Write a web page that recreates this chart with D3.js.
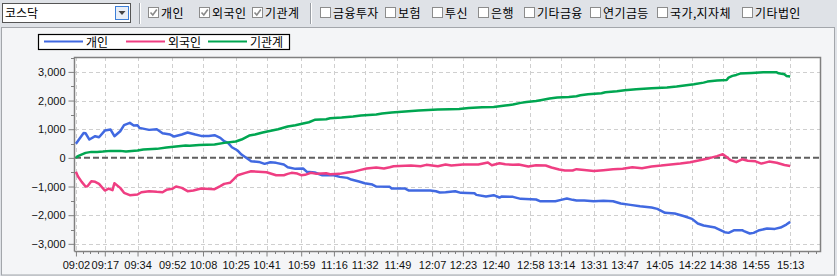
<!DOCTYPE html>
<html>
<head>
<meta charset="utf-8">
<title>코스닥 투자자별 매매동향</title>
<script src="https://cdn.jsdelivr.net/npm/d3@7"></script>
<style>
  body { margin: 0; background: #dfe2e7; }
  svg { display: block; }
</style>
</head>
<body>
<script>

// series names and colours
var seriesNames = ["개인", "외국인", "기관계"];
var seriesColors = ["#4169e1", "#ef3e82", "#00a651"];

// header check boxes
var checkLabels = ["개인", "외국인", "기관계", "금융투자", "보험", "투신", "은행", "기타금융", "연기금등", "국가,지자체", "기타법인"];
var checkOn = [true, true, true, false, false, false, false, false, false, false, false];
var checkX = [148, 199, 252, 320, 385, 432, 478, 524, 590, 657, 742];

// axis ticks
var xTickLabels = ["09:02", "09:17", "09:34", "09:52", "10:08", "10:25", "10:41", "10:59", "11:16", "11:32", "11:49", "12:07",
  "12:23", "12:40", "12:58", "13:14", "13:31", "13:47", "14:05", "14:22", "14:38", "14:55", "15:13"];
var yTicks = [3000, 2000, 1000, 0, -1000, -2000, -3000];

// 개인
var indivTimes = ["09:02","09:06","09:07","09:09","09:12","09:14","09:17","09:20","09:22","09:25","09:27","09:30","09:32","09:34","09:35","09:40","09:44","09:47","09:51","09:53","09:57","10:00","10:04","10:07","10:11","10:14","10:17","10:19","10:21","10:23","10:26","10:28","10:31","10:33","10:37","10:40","10:43","10:46","10:50","10:52","10:56","11:00","11:02","11:06","11:10","11:16","11:19","11:23","11:25","11:29","11:32","11:36","11:38","11:45","11:46","11:53","11:55","12:06","12:09","12:11","12:14","12:19","12:22","12:29","12:30","12:35","12:39","12:42","12:43","12:49","12:51","12:53","13:01","13:03","13:11","13:14","13:17","13:20","13:22","13:26","13:31","13:36","13:41","13:45","13:50","13:55","14:01","14:04","14:08","14:13","14:18","14:22","14:25","14:28","14:34","14:39","14:41","14:44","14:48","14:49","14:52","14:54","14:57","15:01","15:05","15:08","15:11","15:13"];
var indivValues = [490,870,860,640,756,721,953,988,756,930,1140,1221,1128,1140,1047,977,1000,860,814,744,814,884,814,767,767,791,698,581,523,372,256,116,-23,-116,-140,-209,-151,-174,-233,-326,-384,-372,-488,-512,-605,-605,-663,-698,-756,-826,-884,-930,-1000,-1012,-1070,-1070,-1140,-1140,-1163,-1209,-1198,-1163,-1221,-1233,-1291,-1349,-1302,-1384,-1349,-1360,-1395,-1430,-1453,-1512,-1512,-1465,-1419,-1465,-1489,-1489,-1512,-1500,-1512,-1593,-1640,-1687,-1733,-1780,-1919,-1943,-2036,-2129,-2292,-2362,-2431,-2594,-2617,-2524,-2524,-2559,-2640,-2617,-2524,-2466,-2478,-2431,-2327,-2234];

// 외국인
var foreignTimes = ["09:02","09:03","09:05","09:07","09:08","09:10","09:12","09:14","09:17","09:19","09:21","09:22","09:25","09:27","09:30","09:34","09:36","09:40","09:44","09:47","09:49","09:52","09:54","09:57","10:00","10:03","10:07","10:14","10:17","10:19","10:22","10:24","10:26","10:30","10:33","10:41","10:46","10:50","10:52","10:54","10:57","10:59","11:01","11:04","11:07","11:12","11:14","11:19","11:23","11:26","11:30","11:33","11:38","11:42","11:45","11:47","11:56","12:01","12:04","12:10","12:14","12:17","12:23","12:31","12:36","12:38","12:42","12:45","12:49","12:52","12:57","13:01","13:06","13:09","13:13","13:16","13:20","13:22","13:26","13:31","13:36","13:41","13:46","13:51","13:56","14:01","14:06","14:11","14:16","14:21","14:26","14:31","14:35","14:38","14:40","14:42","14:45","14:48","14:51","14:55","14:58","15:02","15:06","15:10","15:13"];
var foreignValues = [-488,-640,-837,-1000,-988,-814,-837,-907,-1140,-1070,-1128,-884,-1047,-1221,-1302,-1279,-1198,-1163,-1186,-1198,-1116,-1081,-1000,-1047,-1163,-1140,-1070,-1093,-988,-907,-872,-744,-605,-523,-465,-500,-605,-605,-558,-523,-547,-605,-593,-523,-558,-535,-570,-558,-512,-488,-419,-372,-337,-372,-326,-291,-267,-291,-244,-291,-233,-267,-233,-233,-163,-256,-186,-221,-244,-233,-302,-256,-267,-337,-407,-442,-442,-395,-420,-460,-430,-400,-380,-330,-360,-300,-270,-230,-200,-150,-80,-10,60,130,30,-80,-150,-50,-100,-120,-200,-130,-170,-250,-280];

// 기관계
var instTimes = ["09:02","09:03","09:07","09:10","09:13","09:16","09:20","09:25","09:28","09:34","09:37","09:44","09:49","09:54","09:59","10:01","10:06","10:14","10:19","10:25","10:28","10:32","10:35","10:39","10:42","10:47","10:52","10:56","11:00","11:03","11:06","11:12","11:14","11:20","11:26","11:30","11:38","11:41","11:46","11:53","12:00","12:10","12:16","12:21","12:26","12:33","12:39","12:45","12:49","12:53","12:56","13:01","13:04","13:08","13:12","13:18","13:22","13:24","13:28","13:35","13:37","13:43","13:47","13:53","14:01","14:09","14:14","14:18","14:23","14:28","14:30","14:35","14:40","14:41","14:43","14:45","14:47","14:53","14:59","15:06","15:07","15:10","15:11","15:13"];
var instValues = [0,58,174,209,209,221,244,244,221,256,290,314,360,395,430,419,453,465,523,570,640,779,814,884,930,1000,1093,1140,1198,1244,1326,1349,1384,1407,1442,1477,1512,1547,1581,1616,1651,1686,1698,1709,1744,1767,1779,1826,1860,1919,1953,1988,2023,2070,2105,2128,2151,2185,2220,2255,2290,2325,2360,2394,2429,2452,2487,2522,2568,2626,2661,2696,2720,2801,2860,2894,2940,2963,2987,2987,2952,2917,2860,2836];


var W = 837, H = 276;
var plot = {left: 75, right: 820, top: 57, bottom: 251};
var parseTime = d3.timeParse("%H:%M");
var fontLatin = "'Liberation Sans', Arial, sans-serif";
var fontKr = "'Noto Sans CJK KR', sans-serif";

var svg = d3.select("body").append("svg")
    .attr("width", W)
    .attr("height", H);

// header bar
svg.append("rect").attr("x", 0).attr("y", 0).attr("width", W).attr("height", 27).attr("fill", "#dfe2e7");

// combo box
svg.append("rect").attr("x", 2.5).attr("y", 3.5).attr("width", 128).attr("height", 19)
    .attr("fill", "#fff").attr("stroke", "#555");
svg.append("text").text("코스닥").attr("x", 5).attr("y", 18)
    .attr("font-family", fontKr).attr("font-size", "12px").attr("fill", "#000");
svg.append("rect").attr("x", 115.5).attr("y", 6.5).attr("width", 13).attr("height", 13)
    .attr("fill", "#e8eef7").attr("stroke", "#3c7fd8");
svg.append("path").attr("d", "M118.5,11 L125.5,11 L122,15 Z").attr("fill", "#444");

// separators
[139, 310].forEach(function(x){
    svg.append("line").attr("x1", x + 0.5).attr("x2", x + 0.5).attr("y1", 3).attr("y2", 24).attr("stroke", "#9a9ea4");
    svg.append("line").attr("x1", x + 1.5).attr("x2", x + 1.5).attr("y1", 3).attr("y2", 24).attr("stroke", "#ffffff");
});

// check boxes
checkLabels.forEach(function(label, i){
    var g = svg.append("g").attr("transform", "translate(" + checkX[i] + ",0)");
    g.append("rect").attr("x", 0.5).attr("y", 7.5).attr("width", 10).attr("height", 10)
        .attr("fill", "#fff").attr("stroke", "#8c8c8c");
    if (checkOn[i]) {
        g.append("path").attr("d", "M2.5,12.5 L4.8,15 L8.8,9.5")
            .attr("fill", "none").attr("stroke", "#8a8a8a").attr("stroke-width", 1.6);
    }
    g.append("text").text(label).attr("x", 13).attr("y", 17.5)
        .attr("font-family", fontKr).attr("font-size", "12px").attr("letter-spacing", "0.4px").attr("fill", "#000");
});

// chart panel
svg.append("rect").attr("x", 1.5).attr("y", 27.5).attr("width", 833).attr("height", 247.5)
    .attr("fill", "#f4f5f7").attr("stroke", "#a3a6ab");
svg.append("rect").attr("x", plot.left).attr("y", plot.top)
    .attr("width", plot.right - plot.left).attr("height", plot.bottom - plot.top)
    .attr("fill", "#fff");

// scales
var xscale = d3.scaleTime()
    .domain([parseTime("09:01"), parseTime("15:29")])
    .range([plot.left - 1, plot.right + 1]);
var yscale = d3.scaleLinear()
    .domain([-3250, 3520])
    .range([plot.bottom, plot.top]);

var xTicks = xTickLabels.map(parseTime);

// grid
svg.append("g").selectAll("line")
    .data(yTicks.filter(function(d){ return d !== 0; })).enter().append("line")
    .attr("x1", plot.left).attr("x2", plot.right)
    .attr("y1", function(d){ return Math.round(yscale(d)) + 0.5; })
    .attr("y2", function(d){ return Math.round(yscale(d)) + 0.5; })
    .attr("stroke", "#cfcfcf").attr("stroke-dasharray", "4,3");
svg.append("g").selectAll("line")
    .data(xTicks).enter().append("line")
    .attr("x1", function(d){ return Math.round(xscale(d)) + 0.5; })
    .attr("x2", function(d){ return Math.round(xscale(d)) + 0.5; })
    .attr("y1", plot.top).attr("y2", plot.bottom)
    .attr("stroke", "#cfcfcf").attr("stroke-dasharray", "4,3");

// zero line
svg.append("line")
    .attr("x1", plot.left).attr("x2", plot.right)
    .attr("y1", yscale(0)).attr("y2", yscale(0))
    .attr("stroke", "#606060").attr("stroke-width", 2).attr("stroke-dasharray", "6,3");

// frame
svg.append("path")
    .attr("d", "M" + (plot.left - 0.5) + "," + (plot.bottom + 0.5) + " V" + (plot.top + 0.5) + " H" + (plot.right + 0.5) + " V" + (plot.bottom + 0.5) + " H" + (plot.left - 0.5))
    .attr("fill", "none").attr("stroke", "#808080").attr("stroke-width", 1.5);

// y axis
var yaxis = d3.axisLeft(yscale)
    .tickValues(yTicks)
    .tickSize(6)
    .tickPadding(3)
    .tickFormat(d3.format(","));
var gy = svg.append("g")
    .attr("transform", "translate(" + (plot.left - 0.5) + ",0)")
    .call(yaxis);
gy.select(".domain").remove();
gy.selectAll("line").attr("stroke", "#808080");
gy.selectAll("text").attr("font-family", fontLatin).attr("font-size", "11px").attr("fill", "#111");

// minor y ticks
var yMinor = d3.range(-3000, 3501, 500).filter(function(d){ return d % 1000 !== 0; });
svg.append("g").selectAll("line").data(yMinor).enter().append("line")
    .attr("x1", plot.left - 4).attr("x2", plot.left)
    .attr("y1", function(d){ return Math.round(yscale(d)) + 0.5; })
    .attr("y2", function(d){ return Math.round(yscale(d)) + 0.5; })
    .attr("stroke", "#808080");

// x axis
var xaxis = d3.axisBottom(xscale)
    .tickValues(xTicks)
    .tickSize(5)
    .tickPadding(5)
    .tickFormat(d3.timeFormat("%H:%M"));
var gx = svg.append("g")
    .attr("transform", "translate(0," + (plot.bottom + 0.5) + ")")
    .call(xaxis);
gx.select(".domain").remove();
gx.selectAll("line").attr("stroke", "#808080");
gx.selectAll("text").attr("font-family", fontLatin).attr("font-size", "11px").attr("fill", "#111");

// minor x ticks, 3 between each labelled tick
var xMinor = [];
for (var i = 0; i < xTicks.length; i++) {
    var a = xscale(xTicks[i]);
    var step = i < xTicks.length - 1 ? (xscale(xTicks[i + 1]) - a) / 4 : (xscale(xTicks[i]) - xscale(xTicks[i - 1])) / 4;
    for (var k = 1; k < 4; k++) {
        if (a + k * step < plot.right) xMinor.push(a + k * step);
    }
}
svg.append("g").selectAll("line").data(xMinor).enter().append("line")
    .attr("x1", function(d){ return Math.round(d) + 0.5; })
    .attr("x2", function(d){ return Math.round(d) + 0.5; })
    .attr("y1", plot.bottom).attr("y2", plot.bottom + 3)
    .attr("stroke", "#808080");

// lines
var series = [
    {times: indivTimes, values: indivValues},
    {times: foreignTimes, values: foreignValues},
    {times: instTimes, values: instValues}
];
var line = d3.line()
    .x(function(d){ return xscale(d[0]); })
    .y(function(d){ return yscale(d[1]); });

series.forEach(function(s, i){
    var pts = s.times.map(function(t, j){ return [parseTime(t), s.values[j]]; });
    svg.append("path")
        .datum(pts)
        .attr("d", line)
        .attr("fill", "none")
        .attr("stroke", seriesColors[i])
        .attr("stroke-width", 2.5)
        .attr("stroke-linejoin", "round");
});

// legend
var legend = svg.append("g");
legend.append("rect").attr("x", 38.5).attr("y", 34.5).attr("width", 251).attr("height", 15)
    .attr("fill", "#fff").attr("stroke", "#000").attr("stroke-width", 1.2);
var legendX = [44, 126, 208];
seriesNames.forEach(function(name, i){
    legend.append("line")
        .attr("x1", legendX[i]).attr("x2", legendX[i] + 39)
        .attr("y1", 41.5).attr("y2", 41.5)
        .attr("stroke", seriesColors[i]).attr("stroke-width", 2);
    legend.append("text").text(name)
        .attr("x", legendX[i] + 42).attr("y", 46.5)
        .attr("font-family", fontKr).attr("font-size", "12px").attr("fill", "#000");
});

</script>
</body>
</html>
